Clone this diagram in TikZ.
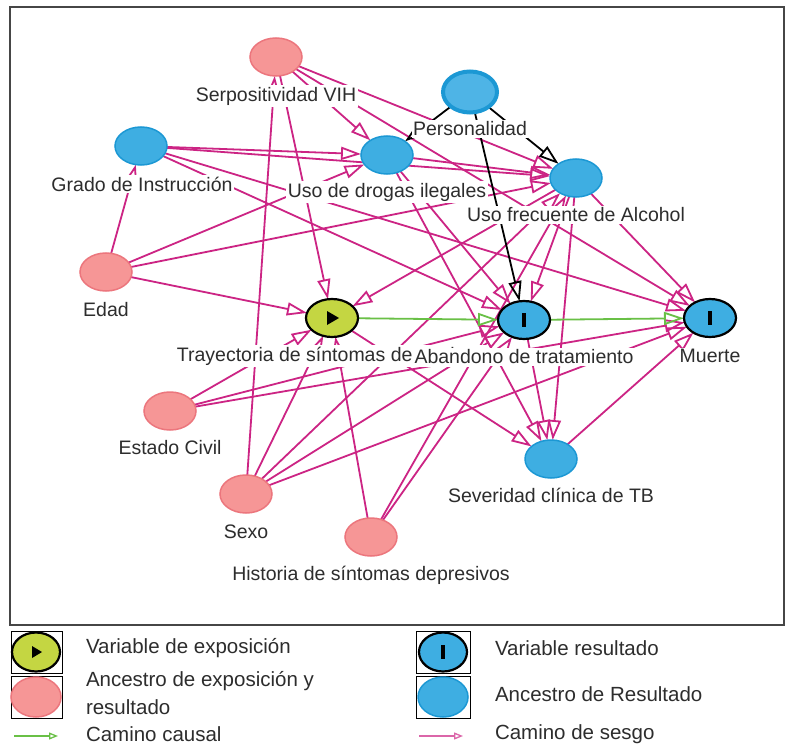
\documentclass[tikz,border=0pt]{standalone}
\usepackage{fontspec}
\setmainfont{Liberation Sans}
\usetikzlibrary{shapes.geometric,arrows.meta}
\pgfdeclarelayer{bg}
\pgfsetlayers{bg,main}
\definecolor{pinkfill}{RGB}{246,150,150}
\definecolor{pinkdraw}{RGB}{236,118,125}
\definecolor{bluefill}{RGB}{62,174,226}
\definecolor{bluedraw}{RGB}{28,152,212}
\definecolor{persfill}{RGB}{78,180,230}
\definecolor{expfill}{RGB}{196,214,66}
\definecolor{bias}{RGB}{204,36,132}
\definecolor{causal}{RGB}{105,192,70}
\definecolor{txt}{RGB}{45,45,45}
\definecolor{frame}{RGB}{70,70,70}
\begin{document}
\begin{tikzpicture}[x=1pt,y=-1pt,
  every node/.style={inner sep=0pt, outer sep=0pt},
  vnode/.style={ellipse, minimum width=52pt, minimum height=38pt, line width=1.5pt},
  anc/.style={vnode, fill=pinkfill, draw=pinkdraw},
  oanc/.style={vnode, fill=bluefill, draw=bluedraw},
  expo/.style={vnode, fill=expfill, draw=black, line width=2.2pt},
  outc/.style={vnode, fill=bluefill, draw=black, line width=2.2pt},
  pers/.style={ellipse, minimum width=54pt, minimum height=41pt, fill=persfill, draw=bluedraw, line width=4pt},
  lbl/.style={fill=white, text=txt, font=\fontsize{19.5}{22}\selectfont, inner sep=1.5pt},
  leg/.style={text=txt, font=\fontsize{20.5}{23}\selectfont, anchor=west},
  tip/.style={-{Triangle[open,length=20pt,width=13pt]}},
  biasedge/.style={draw=bias, line width=1.8pt, tip},
  causaledge/.style={draw=causal, line width=1.8pt, tip},
  blackedge/.style={draw=black, line width=1.8pt, tip},
  legbox/.style={draw=black, line width=1pt},
]
\useasboundingbox (0,0) rectangle (786,746);

% nodes
\node[anc]  (S)  at (276,57)  {};
\node[oanc] (G)  at (141,146) {};
\node[anc]  (E)  at (106,272) {};
\node[oanc] (D)  at (387,155) {};
\node[pers] (P)  at (470,92)  {};
\node[oanc] (Al) at (576,178) {};
\node[expo] (T)  at (332,318) {};
\node[outc] (A)  at (524,320) {};
\node[outc] (M)  at (710,318) {};
\node[anc]  (C)  at (170,411) {};
\node[anc]  (X)  at (246,494) {};
\node[anc]  (H)  at (371,537) {};
\node[oanc] (V)  at (551,459) {};

\fill (T.center) ++(-5,-7) -- ++(12,7) -- ++(-12,7) -- cycle;
\fill (A.center) ++(-2,-7) rectangle ++(4,14);
\fill (M.center) ++(-2,-7) rectangle ++(4,14);

\begin{pgfonlayer}{bg}
  \fill[white] (0,0) rectangle (786,746);
  \draw[draw=frame, line width=1.5pt] (10,7) rectangle (784,625);
  % bias paths
  \draw[biasedge] (S) -- (D);
  \draw[biasedge] (S) -- (T);
  \draw[biasedge] (S) -- (M);
  \draw[biasedge] (S) -- (Al);
  \draw[biasedge] (X) -- (S);
  \draw[biasedge] (G) -- (D);
  \draw[biasedge] (G) -- (Al);
  \draw[biasedge] (G) -- (M);
  \draw[biasedge] (G) -- (A);
  \draw[biasedge] (E) -- (G);
  \draw[biasedge] (E) -- (D);
  \draw[biasedge] (E) -- (Al);
  \draw[biasedge] (E) -- (T);
  \draw[biasedge] (D) -- (Al);
  \draw[biasedge] (D) -- (A);
  \draw[biasedge] (D) -- (V);
  \draw[biasedge] (Al) -- (T);
  \draw[biasedge] (Al) -- (A);
  \draw[biasedge] (Al) -- (V);
  \draw[biasedge] (Al) -- (M);
  \draw[biasedge] (C) -- (T);
  \draw[biasedge] (C) -- (A);
  \draw[biasedge] (C) -- (M);
  \draw[biasedge] (X) -- (T);
  \draw[biasedge] (X) -- (Al);
  \draw[biasedge] (X) -- (A);
  \draw[biasedge] (X) -- (M);
  \draw[biasedge] (H) -- (T);
  \draw[biasedge] (H) -- (Al);
  \draw[biasedge] (H) -- (A);
  \draw[biasedge] (T) -- (V);
  \draw[biasedge] (A) -- (V);
  \draw[biasedge] (V) -- (M);
  % causal paths
  \draw[causaledge] (T) -- (A);
  \draw[causaledge] (A) -- (M);
  % personality
  \draw[blackedge] (P) -- (D);
  \draw[blackedge] (P) -- (Al);
  \draw[blackedge] (P) -- (A);
\end{pgfonlayer}

% labels
\node[lbl] (Sl) at (276,96)  {Serpositividad VIH};
\node[lbl] (Gl) at (142,184) {Grado de Instrucción};
\node[lbl] (El) at (106,310) {Edad};
\node[lbl] (Dl) at (387,192) {Uso de drogas ilegales};
\node[lbl] (Pl) at (470,129) {Personalidad};
\node[lbl] (All) at (576,215) {Uso frecuente de Alcohol};
\node[lbl] (Tl) at (331,356) {Trayectoria de síntomas depresivos};
\node[lbl] (Al2) at (524,357) {Abandono de tratamiento};
\node[lbl] (Ml) at (710,356) {Muerte};
\node[lbl] (Cl) at (170,448) {Estado Civil};
\node[lbl] (Xl) at (246,532) {Sexo};
\node[lbl] (Hl) at (371,575) {Historia de síntomas depresivos};
\node[lbl] (Vl) at (551,495) {Severidad clínica de TB};

% legend
\draw[legbox] (11,631) rectangle (62,673);
\node[expo, minimum width=48pt, minimum height=39pt] (LE) at (36,652) {};
\fill (LE.center) ++(-4,-6) -- ++(10,6) -- ++(-10,6) -- cycle;
\node[leg] (LEt) at (86,648) {Variable de exposición};

\draw[legbox] (11,676) rectangle (62,718);
\node[anc, minimum width=50pt, minimum height=40pt] (LA) at (36,697) {};
\node[leg] (LAt1) at (86,681) {Ancestro de exposición y};
\node[leg] (LAt2) at (86,707) {resultado};

\draw[legbox] (416,631) rectangle (470,673);
\node[outc, minimum width=48pt, minimum height=39pt] (LO) at (443,652) {};
\fill (LO.center) ++(-2,-7) rectangle ++(4,14);
\node[leg] (LOt) at (495,648) {Variable resultado};

\draw[legbox] (416,676) rectangle (470,718);
\node[oanc, minimum width=50pt, minimum height=40pt] (LB) at (443,697) {};
\node[leg] (LBt) at (495,694) {Ancestro de Resultado};

\coordinate (lc1) at (14,736);
\coordinate (lc2) at (58,736);
\draw[draw=causal, line width=1.3pt, -{Triangle[open,length=9pt,width=7pt]}] (lc1) -- (lc2);
\node[leg] (LCt) at (86,734) {Camino causal};

\coordinate (lb1) at (419,736);
\coordinate (lb2) at (463,736);
\draw[draw=bias!70!white, line width=1.3pt, -{Triangle[open,length=9pt,width=7pt]}] (lb1) -- (lb2);
\node[leg] (LBs) at (495,734) {Camino de sesgo};
\end{tikzpicture}
\end{document}
